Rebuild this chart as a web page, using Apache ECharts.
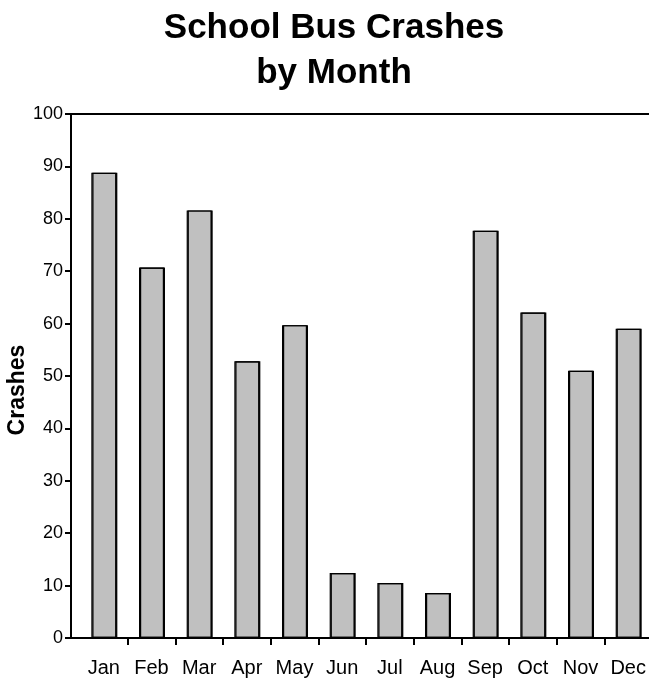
<!DOCTYPE html>
<html>
<head>
<meta charset="utf-8">
<title>School Bus Crashes by Month</title>
<script src="https://cdn.jsdelivr.net/npm/echarts@6/dist/echarts.min.js"></script>
<style>
  html, body { margin: 0; padding: 0; background: #fff; }
  #chart { width: 649px; height: 682px; }
</style>
</head>
<body>
<div id="chart"></div>
<script>
// Monthly crash counts
const months = ['Jan', 'Feb', 'Mar', 'Apr', 'May', 'Jun', 'Jul', 'Aug', 'Sep', 'Oct', 'Nov', 'Dec'];
const crashes = [88.8, 70.7, 81.6, 52.8, 59.7, 12.4, 10.5, 8.6, 77.7, 62.1, 51.0, 59.0];
const yTicks = { min: 0, max: 100, interval: 10 };

const FONT = '"Liberation Sans", Arial, Helvetica, sans-serif';

const chart = echarts.init(document.getElementById('chart'), null, { renderer: 'canvas' });

// Plot frame: the value axis sits a little to the left of the first category,
// and the last category runs slightly past the right edge of the canvas
const GRID = { left: 80, width: 572, top: 114, bottom: 44, outerBoundsMode: 'none' };
const Y_AXIS_X = 71;
const BASE_Y = 682 - GRID.bottom;

chart.setOption({
  backgroundColor: '#ffffff',
  animation: false,
  title: {
    text: 'School Bus Crashes\nby Month',
    left: 329,
    textAlign: 'center',
    top: 1,
    textStyle: {
      fontFamily: FONT,
      fontSize: 35,
      fontWeight: 'bold',
      color: '#000',
      lineHeight: 45
    }
  },
  grid: GRID,
  xAxis: {
    type: 'category',
    data: months,
    axisLine: { lineStyle: { color: '#000', width: 2 } },
    axisTick: {
      show: true,
      length: 7,
      interval: function (index) { return index !== 0; },
      lineStyle: { color: '#000', width: 2 }
    },
    axisLabel: { color: '#000', fontFamily: FONT, fontSize: 20, margin: 20, interval: 0 }
  },
  yAxis: {
    type: 'value',
    min: yTicks.min,
    max: yTicks.max,
    interval: yTicks.interval,
    offset: GRID.left - Y_AXIS_X,
    axisLine: { show: true, lineStyle: { color: '#000', width: 2 } },
    axisTick: { show: true, length: 6, lineStyle: { color: '#000', width: 2 } },
    axisLabel: { color: '#000', fontFamily: FONT, fontSize: 18, margin: 8 },
    splitLine: { show: false }
  },
  graphic: [
    {
      // frame line along the top of the plot
      type: 'line',
      shape: { x1: Y_AXIS_X - 1, y1: GRID.top, x2: 649, y2: GRID.top },
      style: { stroke: '#000', lineWidth: 2 }
    },
    {
      // join the category axis to the value axis
      type: 'line',
      shape: { x1: Y_AXIS_X - 1, y1: BASE_Y, x2: GRID.left + 1, y2: BASE_Y },
      style: { stroke: '#000', lineWidth: 2 }
    },
    {
      type: 'text',
      x: 18,
      y: 390,
      rotation: Math.PI / 2,
      style: {
        text: 'Crashes',
        fontFamily: FONT,
        fontSize: 23,
        fontWeight: 'bold',
        fill: '#000',
        align: 'center',
        verticalAlign: 'middle'
      }
    }
  ],
  series: [{
    type: 'bar',
    data: crashes,
    barWidth: 25,
    itemStyle: {
      color: '#c0c0c0',
      borderColor: '#000',
      borderWidth: 1.2,
      shadowColor: '#000',
      shadowBlur: 0,
      shadowOffsetX: 1,
      shadowOffsetY: 0
    }
  }]
});
</script>
</body>
</html>
